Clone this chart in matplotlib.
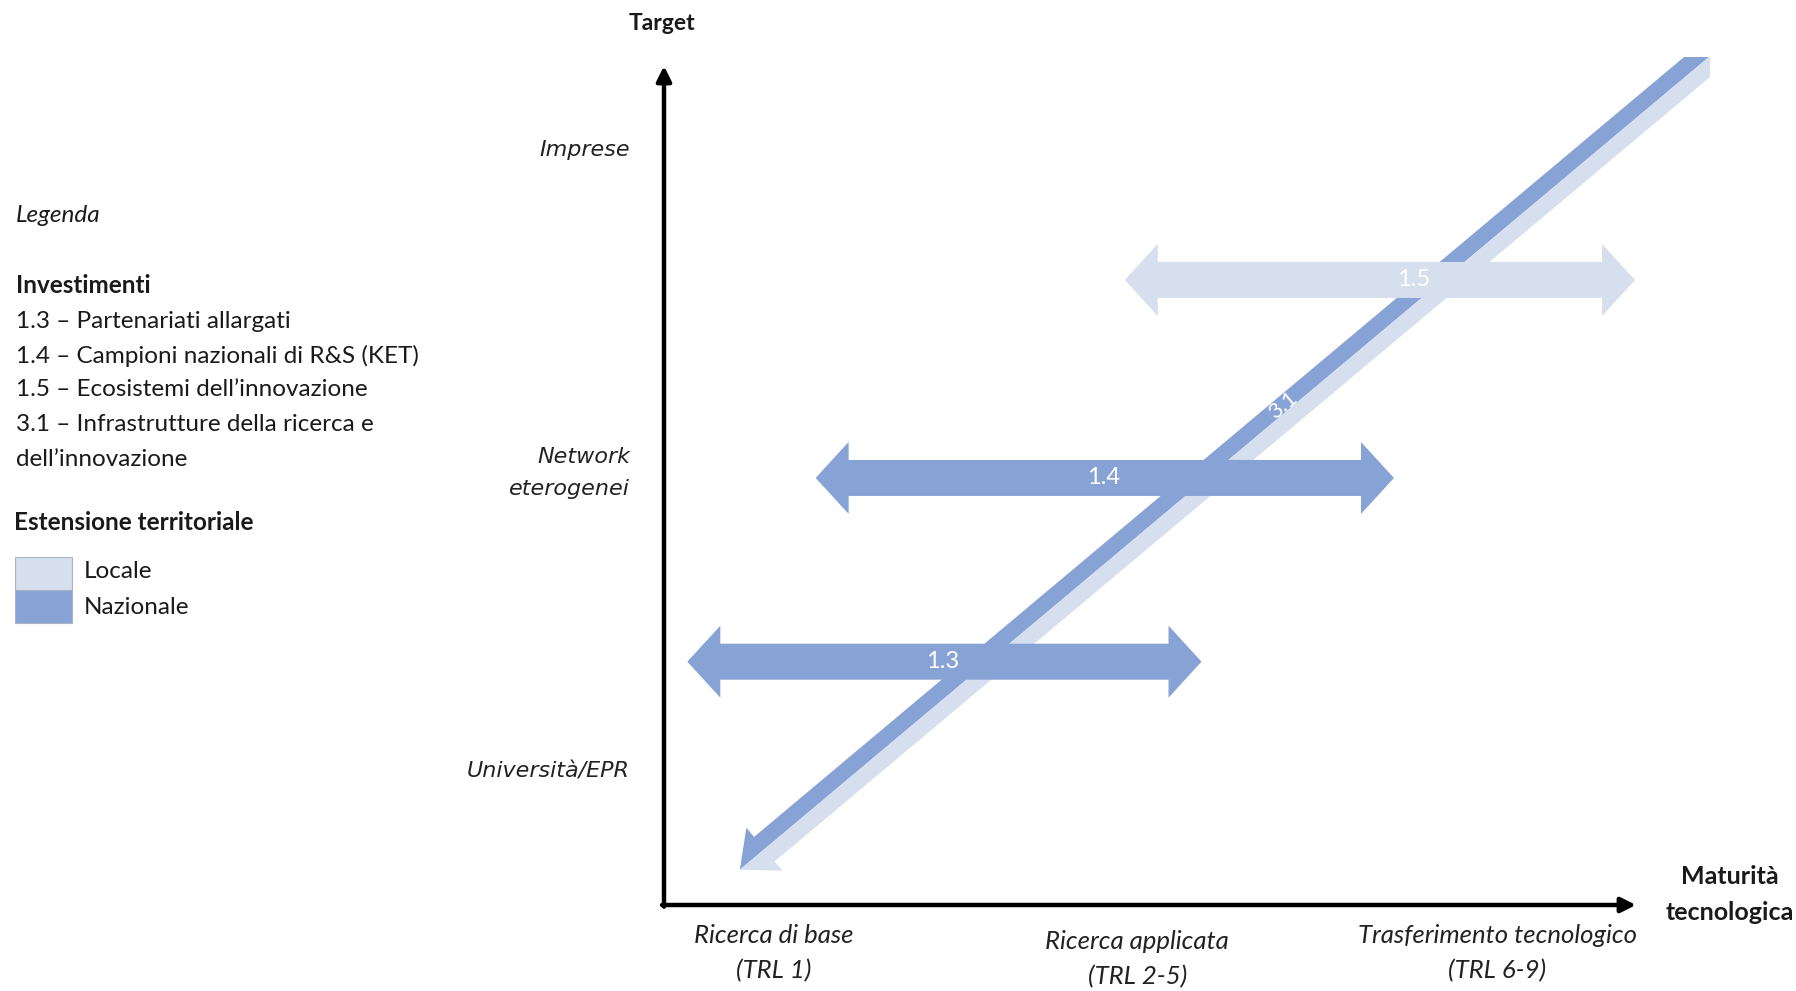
import numpy as np
import matplotlib.pyplot as plt
from matplotlib.patches import Polygon, Rectangle

W, H = 1796, 991
DARK = '#87a3d5'
LIGHT = '#d5dfee'

# horizontal investment arrows (data units, 0-10 on both axes)
inv_labels = ['1.3', '1.4', '1.5']
inv_start = [0.24, 1.56, 4.74]
inv_end = [5.53, 7.51, 9.99]
inv_level = [2.90, 5.09, 7.45]
inv_text_x = [2.87, 4.52, 7.71]
inv_scope = ['Nazionale', 'Nazionale', 'Locale']

# diagonal investment 3.1 (national + local)
diag_start = (0.78, 0.42)
diag_end = (11.0, 10.35)
diag_clip = (10.76, 10.11)
diag_label = '3.1'
diag_text = (6.37, 5.95)

y_pos = [9.0, 5.15, 1.59]
y_labels = ['Imprese', 'Network\neterogenei', 'Università/EPR']
x_pos = [1.13, 4.87, 8.57]
x_line1 = ['Ricerca di base', 'Ricerca applicata', 'Trasferimento tecnologico']
x_line2 = ['(TRL 1)', '(TRL 2-5)', '(TRL 6-9)']
x_offset = [0.0, -0.07, 0.0]

legend_items = ['1.3 – Partenariati allargati',
                '1.4 – Campioni nazionali di R&S (KET)',
                '1.5 – Ecosistemi dell’innovazione',
                '3.1 – Infrastrutture della ricerca e',
                'dell’innovazione']
scope_names = ['Locale', 'Nazionale']
scope_colors = {'Locale': LIGHT, 'Nazionale': DARK}

FONT = 'Lato'
FS = 17.5

fig = plt.figure(figsize=(W / 100, H / 100), dpi=100)
ax = fig.add_axes([664 / W, 1 - 905 / H, 972 / W, 839 / H])
ax.set_xlim(0, 10)
ax.set_ylim(0, 10)
ax.axis('off')


def arrow_poly(p0, p1, half_w, head_w, head_len, side=0):
    # build the outline in pixels, then map back to data
    a, b = ax.transData.transform([p0, p1])
    u = (b - a) / np.hypot(*(b - a))
    n = np.array([-u[1], u[0]])
    if side == 0:
        pts = [a, a + head_len * u + head_w * n, a + head_len * u + half_w * n,
               b - head_len * u + half_w * n, b - head_len * u + head_w * n, b,
               b - head_len * u - head_w * n, b - head_len * u - half_w * n,
               a + head_len * u - half_w * n, a + head_len * u - head_w * n]
    else:
        s = side
        pts = [a, a + head_len * u + s * head_w * n, a + head_len * u + s * half_w * n,
               b - head_len * u + s * half_w * n, b - head_len * u + s * head_w * n, b]
    return ax.transData.inverted().transform(np.array(pts))


# diagonal 3.1: dark half on upper-left side, light half on lower-right side
clip = Rectangle((-2, -2), diag_clip[0] + 2, diag_clip[1] + 2, transform=ax.transData)
for side, col in [(1, DARK), (-1, LIGHT)]:
    poly = Polygon(arrow_poly(diag_start, diag_end, 16, 28, 32, side), closed=True,
                   facecolor=col, edgecolor='none', zorder=2, clip_on=True)
    ax.add_patch(poly)
    poly.set_clip_path(clip)
ang = np.degrees(np.arctan2(*(np.diff(ax.transData.transform([diag_start, diag_end]), axis=0)[0][::-1])))
ax.text(diag_text[0], diag_text[1], diag_label, color='white', fontsize=16, family=FONT,
        rotation=ang, ha='center', va='center', rotation_mode='anchor', zorder=4)

# horizontal arrows
for lab, x0, x1, y, tx, sc in zip(inv_labels, inv_start, inv_end, inv_level, inv_text_x, inv_scope):
    col = scope_colors[sc]
    ax.add_patch(Polygon(arrow_poly((x0, y), (x1, y), 18, 36, 33), closed=True,
                         facecolor=col, edgecolor='none', zorder=3, clip_on=False))
    ax.text(tx, y, lab, color='white', fontsize=17, family=FONT,
            ha='center', va='center', zorder=4)

# axes with arrow heads
ap = dict(arrowstyle='-|>', color='black', lw=3.2, mutation_scale=22, shrinkA=0, shrinkB=0)
ax.annotate('', xy=(0, 10), xytext=(0, -0.02), arrowprops=ap, annotation_clip=False)
ax.annotate('', xy=(10, 0), xytext=(-0.02, 0), arrowprops=ap, annotation_clip=False)

# y categories
for y, lab in zip(y_pos, y_labels):
    ax.text(-0.35, y, lab, ha='right', va='center', fontsize=16, style='italic',
            family='DejaVu Sans', linespacing=1.75, color='#222222')

# x categories
for x, l1, l2, off in zip(x_pos, x_line1, x_line2, x_offset):
    ax.text(x, -0.36 + off, l1, ha='center', va='center', fontsize=18.5, style='italic',
            family=FONT, color='#222222')
    ax.text(x, -0.78 + off, l2, ha='center', va='center', fontsize=18.5, style='italic',
            family=FONT, color='#222222')


def ftext(x, y, s, **kw):
    fig.text(x / W, 1 - y / H, s, family=FONT, va='center', color='#1a1a1a', **kw)


ftext(662, 23, 'Target', ha='center', fontsize=16.5, weight='bold')
ftext(1730, 877, 'Maturità', ha='center', fontsize=18, weight='bold')
ftext(1730, 913, 'tecnologica', ha='center', fontsize=18, weight='bold')

# legend
ftext(16, 215, 'Legenda', fontsize=FS, style='italic')
ftext(16, 285, 'Investimenti', fontsize=FS, weight='bold')
for i, item in enumerate(legend_items):
    ftext(16, 321 + 34.5 * i, item, fontsize=FS)
ftext(14, 523, 'Estensione territoriale', fontsize=FS, weight='bold')
for i, name in enumerate(scope_names):
    top = 557 + 33 * i
    fig.add_artist(Rectangle((15 / W, 1 - (top + 33) / H), 57 / W, 33 / H,
                             transform=fig.transFigure, facecolor=scope_colors[name],
                             edgecolor='#aab4c6', lw=0.8))
    ftext(84, 571 + 36 * i, name, fontsize=FS)

fig.savefig('out.png', dpi=100)
